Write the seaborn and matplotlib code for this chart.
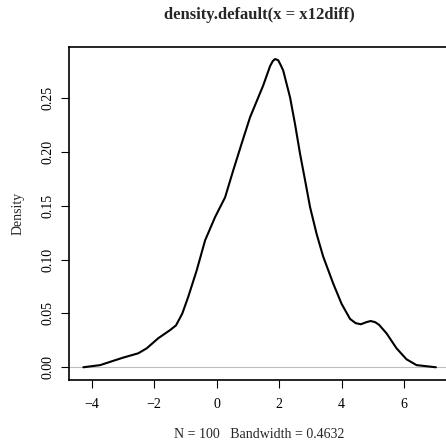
import numpy as np
import pandas as pd
import seaborn as sns
import matplotlib
matplotlib.use("Agg")
import matplotlib.pyplot as plt

# density estimate (x12diff, N = 100, bw = 0.4632)
dens_x = [-4.27, -3.73, -3.31, -2.99, -2.51, -2.24, -1.87, -1.49, -1.30, -1.10,
          -0.91, -0.64, -0.37, -0.05, 0.27, 0.53, 0.80, 1.07, 1.49, 1.71,
          1.80, 1.87, 1.97, 2.05, 2.13, 2.35, 2.51, 2.67, 2.83, 2.99,
          3.20, 3.41, 3.73, 4.00, 4.27, 4.45, 4.62, 4.80, 4.93, 5.07,
          5.20, 5.44, 5.76, 6.08, 6.40, 7.02]
dens_y = [0.0, 0.002, 0.006, 0.009, 0.013, 0.0176, 0.027, 0.0346, 0.039, 0.050,
          0.0655, 0.090, 0.118, 0.1397, 0.158, 0.183, 0.208, 0.2325, 0.262, 0.280,
          0.2848, 0.2866, 0.2855, 0.281, 0.276, 0.251, 0.226, 0.1985, 0.174, 0.149,
          0.124, 0.103, 0.078, 0.059, 0.045, 0.041, 0.040, 0.042, 0.043, 0.042,
          0.0395, 0.0315, 0.0176, 0.0074, 0.002, 0.0]
xticks = [-4, -2, 0, 2, 4, 6]
yticks = [0.00, 0.05, 0.10, 0.15, 0.20, 0.25]

df = pd.DataFrame({"x": dens_x, "Density": dens_y})

sns.set_theme(style="ticks")
plt.rcParams['font.family'] = ['Liberation Serif', 'DejaVu Serif']
plt.rcParams['font.size'] = 10

fig = plt.figure(figsize=(4.46, 4.45), dpi=100)
ax = fig.add_axes([69.2 / 446, 1 - 379.6 / 445, 380.8 / 446, 332.9 / 445])

ax.axhline(0, color="#bebebe", lw=0.8, zorder=1)
sns.lineplot(data=df, x="x", y="Density", color="black", lw=1.5, ax=ax, zorder=2)
ax.margins(x=0.04, y=0.04)

ax.set_xticks(xticks)
ax.set_yticks(yticks)
ax.set_yticklabels([f"{v:.2f}" for v in yticks], rotation=90, va="center")
ax.tick_params(axis="both", length=5.5, width=0.8, color="black",
               labelsize=10, labelcolor="black")
ax.tick_params(axis="x", pad=8)
ax.tick_params(axis="y", pad=5)
for s in ax.spines.values():
    s.set_color("black")
    s.set_linewidth(1.2)

ax.set_title("density.default(x = x12diff)", fontsize=12, fontweight="bold", pad=20)
ax.set_xlabel("N = 100   Bandwidth = 0.4632", fontsize=10, labelpad=12)
ax.set_ylabel("Density", fontsize=10, labelpad=12)

fig.savefig("out.png", dpi=100)
